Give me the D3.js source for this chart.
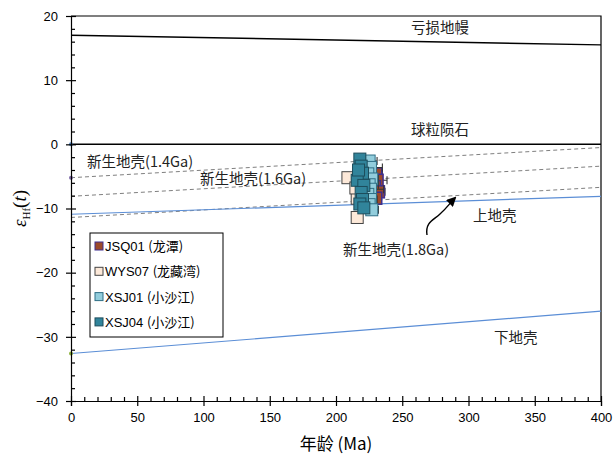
<!DOCTYPE html>
<html>
<head>
<meta charset="utf-8">
<script src="https://cdn.jsdelivr.net/npm/d3@7"></script>
<style>
  body { margin: 0; background: #fff; }
  svg text { font-family: "Liberation Sans", Arial, sans-serif; }
  .cjk { font-family: "Noto Sans CJK SC", "Liberation Sans", sans-serif; }
</style>
</head>
<body>
<div id="chart"></div>
<script>
// reference lines, values at age 0 and 400 Ma
const lineAges = [0, 400];
const depletedMantle = [17.0, 15.5];
const chondrite = [0, 0];
const crust14 = [-5.2, -0.5];
const crust16 = [-8.1, -3.4];
const crust18 = [-11.4, -6.7];
const upperCrust = [-10.9, -8.1];
const lowerCrust = [-32.6, -26.0];

// zircon samples
const jsqAge = [230, 231, 229, 232, 230];
const jsqHf = [-4.6, -5.6, -6.6, -7.4, -8.4];
const jsqErr = [5, 7.5, 6, 5, 4];

const wysAge = [209, 216, 216, 215];
const wysHf = [-5.2, -8.4, -11.4, -6.8];
const wysErr = [4, 3, 3, 3];

const xsj01Age = [225, 226, 224, 227, 225, 226, 224, 226, 225, 227];
const xsj01Hf = [-2.6, -3.6, -4.6, -5.4, -6.3, -7.0, -7.8, -8.6, -9.4, -10.2];
const xsj01Err = [6, 9, 4, 5, 7, 10, 4, 5, 4, 5];

const xsj04Age = [218, 219, 220, 216, 221, 219, 220, 218, 221, 217];
const xsj04Hf = [-2.3, -3.4, -4.5, -5.6, -6.4, -7.5, -8.6, -9.3, -9.9, -4.0];
const xsj04Err = [4, 3, 3, 4, 3, 3, 4, 3, 3, 3];

const xTicks = [0, 50, 100, 150, 200, 250, 300, 350, 400];
const yTicks = [-40, -30, -20, -10, 0, 10, 20];

const width = 613, height = 459;
const margin = {top: 16, right: 12, bottom: 58, left: 71};

const svg = d3.select('#chart').append('svg')
  .attr('width', width)
  .attr('height', height);

const x = d3.scaleLinear().domain([0, 400]).range([margin.left, width - margin.right]);
const y = d3.scaleLinear().domain([-40, 20]).range([height - margin.bottom, margin.top]);

// frame (top + right)
svg.append('path')
  .attr('d', `M${x(0)},${y(20)}H${x(400)}V${y(-40)}`)
  .attr('fill', 'none').attr('stroke', '#000').attr('stroke-width', 1.2);

// reference lines
const line = d3.line().x(d => x(d[0])).y(d => y(d[1]));
const refs = [
  {v: depletedMantle, color: '#000', w: 1.5, dash: null},
  {v: chondrite, color: '#000', w: 1.5, dash: null},
  {v: crust14, color: '#7f7f7f', w: 1, dash: '4,3'},
  {v: crust16, color: '#7f7f7f', w: 1, dash: '4,3'},
  {v: crust18, color: '#7f7f7f', w: 1, dash: '4,3'},
  {v: upperCrust, color: '#5b8ed6', w: 1.2, dash: null},
  {v: lowerCrust, color: '#5b8ed6', w: 1.2, dash: null}
];
refs.forEach(r => {
  svg.append('path')
    .datum(lineAges.map((a, i) => [a, r.v[i]]))
    .attr('d', line)
    .attr('fill', 'none')
    .attr('stroke', r.color)
    .attr('stroke-width', r.w)
    .attr('stroke-dasharray', r.dash);
});

// little markers on the y axis
[[chondrite[0], '#4a7ebb'], [crust14[0], '#7e6aa8'], [lowerCrust[0], '#8db23c']].forEach(p => {
  svg.append('circle').attr('cx', x(0)).attr('cy', y(p[0])).attr('r', 2).attr('fill', p[1]);
});

// axes
const yAxis = svg.append('g').attr('transform', `translate(${x(0)},0)`)
  .call(d3.axisLeft(y).tickValues(yTicks).tickSize(5).tickPadding(8));
svg.append('g').attr('transform', `translate(${x(0)},0)`)
  .call(d3.axisRight(y).tickValues(yTicks).tickSize(5).tickFormat(''))
  .call(g => g.select('.domain').remove());
svg.append('g').attr('transform', `translate(${x(0)},0)`)
  .call(d3.axisRight(y).tickValues(d3.range(-38, 20, 2).filter(v => v % 10 !== 0)).tickSize(4).tickFormat(''))
  .call(g => g.select('.domain').remove());

const xAxis = svg.append('g').attr('transform', `translate(0,${y(-40)})`)
  .call(d3.axisBottom(x).tickValues(xTicks).tickSize(5).tickPadding(7));
svg.append('g').attr('transform', `translate(0,${y(-40)})`)
  .call(d3.axisTop(x).tickValues(xTicks).tickSize(5).tickFormat(''))
  .call(g => g.select('.domain').remove());
svg.append('g').attr('transform', `translate(0,${y(-40)})`)
  .call(d3.axisTop(x).tickValues(d3.range(10, 400, 10).filter(v => v % 50 !== 0)).tickSize(4).tickFormat(''))
  .call(g => g.select('.domain').remove());

svg.selectAll('.domain, .tick line').attr('stroke', '#000').attr('stroke-width', 1.2);
[yAxis, xAxis].forEach(g => g.selectAll('text')
  .style('font-family', '"Liberation Sans", Arial, sans-serif')
  .style('font-size', '13px').attr('fill', '#000'));

// axis titles
svg.append('text').attr('class', 'cjk')
  .attr('x', (x(0) + x(400)) / 2).attr('y', 450)
  .attr('text-anchor', 'middle')
  .style('font-size', '17px')
  .text('年龄 (Ma)');

const yTitle = svg.append('text')
  .attr('transform', `translate(26,${y(-10)}) rotate(-90)`)
  .attr('text-anchor', 'middle')
  .style('font-family', '"Liberation Serif", "DejaVu Serif", serif')
  .style('font-size', '19px');
yTitle.append('tspan').style('font-style', 'italic').style('font-family', '"Liberation Serif", serif').text('ε');
yTitle.append('tspan').attr('dy', 4).style('font-size', '11px').style('font-family', '"Liberation Serif", serif').text('Hf');
yTitle.append('tspan').attr('dy', -4).style('font-family', '"Liberation Serif", serif').text('(');
yTitle.append('tspan').style('font-style', 'italic').style('font-family', '"Liberation Serif", serif').text('t');
yTitle.append('tspan').style('font-family', '"Liberation Serif", serif').text(')');

// line labels
const labels = [
  {t: '亏损地幔', px: 440, py: 33, a: 'middle'},
  {t: '球粒陨石', px: 440, py: 135, a: 'middle'},
  {t: '新生地壳(1.4Ga)', px: 87, py: 167, a: 'start'},
  {t: '新生地壳(1.6Ga)', px: 200, py: 184, a: 'start'},
  {t: '上地壳', px: 473, py: 221, a: 'start'},
  {t: '新生地壳(1.8Ga)', px: 396, py: 255, a: 'middle'},
  {t: '下地壳', px: 494, py: 343, a: 'start'}
];
labels.forEach(l => {
  svg.append('text').attr('class', 'cjk')
    .attr('x', l.px).attr('y', l.py)
    .attr('text-anchor', l.a)
    .style('font-size', '14.5px')
    .attr('fill', '#222')
    .text(l.t);
});

// curved arrow to the 1.8 Ga line
svg.append('defs').append('marker')
  .attr('id', 'ah').attr('viewBox', '0 0 10 10')
  .attr('refX', 8).attr('refY', 5)
  .attr('markerWidth', 7).attr('markerHeight', 7)
  .attr('orient', 'auto')
  .append('path').attr('d', 'M0,0L10,5L0,10Z').attr('fill', '#000');
svg.append('path')
  .attr('d', 'M427,235 C425,222 434,220 440,214 C447,208 449,204 455,198')
  .attr('fill', 'none').attr('stroke', '#000').attr('stroke-width', 1.4)
  .attr('marker-end', 'url(#ah)');

// samples
const series = [
  {name: 'WYS07', cn: '(龙藏湾)', age: wysAge, hf: wysHf, err: wysErr, fill: '#fde9d9', stroke: '#444', sw: 1},
  {name: 'JSQ01', cn: '(龙潭)', age: jsqAge, hf: jsqHf, err: jsqErr, fill: '#9c4a2a', stroke: '#3f2f8f', sw: 1.5},
  {name: 'XSJ01', cn: '(小沙江)', age: xsj01Age, hf: xsj01Hf, err: xsj01Err, fill: '#92cddc', stroke: '#2f6f86', sw: 1},
  {name: 'XSJ04', cn: '(小沙江)', age: xsj04Age, hf: xsj04Hf, err: xsj04Err, fill: '#31849b', stroke: '#1d4d5c', sw: 1}
];
const sq = 12;

series.forEach(s => {
  const pts = s.age.map((a, i) => ({a, v: s.hf[i], e: s.err[i]}));
  const g = svg.append('g');
  // horizontal age error bars
  g.selectAll('.eb').data(pts).enter().append('path')
    .attr('d', d => `M${x(d.a - d.e)},${y(d.v)}H${x(d.a + d.e)}` +
      `M${x(d.a - d.e)},${y(d.v) - 4}v8M${x(d.a + d.e)},${y(d.v) - 4}v8`)
    .attr('stroke', '#333').attr('stroke-width', 1.1).attr('fill', 'none');
  g.selectAll('rect').data(pts).enter().append('rect')
    .attr('x', d => x(d.a) - sq / 2).attr('y', d => y(d.v) - sq / 2)
    .attr('width', sq).attr('height', sq)
    .attr('fill', s.fill).attr('stroke', s.stroke).attr('stroke-width', s.sw);
});

// legend
const legendOrder = ['JSQ01', 'WYS07', 'XSJ01', 'XSJ04'];
const lg = svg.append('g');
lg.append('rect').attr('x', 90).attr('y', 233).attr('width', 133).attr('height', 104)
  .attr('fill', '#fff').attr('stroke', '#000').attr('stroke-width', 1);
legendOrder.forEach((n, i) => {
  const s = series.find(d => d.name === n);
  const cy = 246 + i * 25.3;
  lg.append('rect').attr('x', 95).attr('y', cy - 4).attr('width', 8).attr('height', 8)
    .attr('fill', s.fill).attr('stroke', s.stroke).attr('stroke-width', 1);
  const t = lg.append('text').attr('x', 105).attr('y', cy + 5)
    .style('font-size', '13px');
  t.append('tspan').text(s.name + ' ');
  t.append('tspan').attr('class', 'cjk').style('font-size', '13px').text(s.cn);
});
</script>
</body>
</html>
